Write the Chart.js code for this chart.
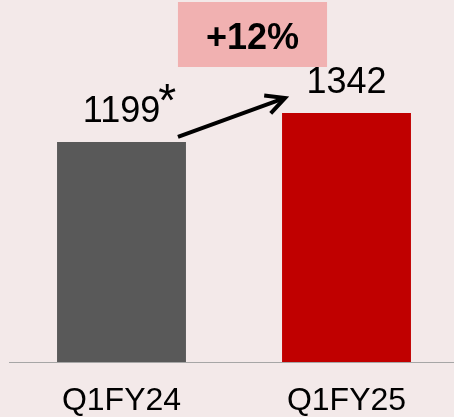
<!DOCTYPE html>
<html>
<head>
<meta charset="utf-8">
<script src="https://cdn.jsdelivr.net/npm/chart.js@4/dist/chart.umd.min.js"></script>
<style>
  html, body { margin: 0; padding: 0; background: #f3e9e9; overflow: hidden; width: 454px; height: 417px; }
  canvas { display: block; }
</style>
</head>
<body>
<canvas id="c" width="460" height="417"></canvas>
<script>
const categories = ['Q1FY24', 'Q1FY25'];
const values = [1199, 1342];
const valueLabels = ['1199', '1342'];
const growthLabel = '+12%';
const barColors = ['#595959', '#c00000'];

const FONT = '"Liberation Sans", Arial, Helvetica, sans-serif';

const decor = {
  id: 'decor',
  beforeDraw(chart) {
    const ctx = chart.ctx;
    ctx.save();
    ctx.fillStyle = '#f3e9e9';
    ctx.fillRect(0, 0, chart.width, chart.height);
    ctx.restore();
  },
  afterDatasetsDraw(chart) {
    const ctx = chart.ctx;
    const area = chart.chartArea;
    const xs = chart.scales.x;
    const bars = chart.getDatasetMeta(0).data;
    ctx.save();
    // axis line
    ctx.strokeStyle = '#a6a6a6';
    ctx.lineWidth = 1;
    ctx.beginPath();
    ctx.moveTo(area.left, area.bottom + 0.5);
    ctx.lineTo(area.right, area.bottom + 0.5);
    ctx.stroke();
    // category labels
    ctx.fillStyle = '#000';
    ctx.font = '32px ' + FONT;
    ctx.textAlign = 'center';
    ctx.textBaseline = 'alphabetic';
    categories.forEach((c, i) => {
      ctx.fillText(c, xs.getPixelForValue(i), area.bottom + 48);
    });
    // value labels
    ctx.font = '36px ' + FONT;
    bars.forEach((b, i) => {
      ctx.fillText(valueLabels[i], b.x, b.y - 20);
    });
    // asterisk on first label
    const g = bars[0];
    const w = ctx.measureText(valueLabels[0]).width;
    ctx.textAlign = 'left';
    ctx.font = '46px ' + FONT;
    ctx.fillText('*', g.x + w / 2 - 2, g.y - 26);
    // arrow
    const r = bars[1];
    const sx = g.x + g.width / 2 - 8, sy = g.y - 5;
    const ex = r.x - r.width / 2 + 3, ey = r.y - 15;
    ctx.strokeStyle = '#000';
    ctx.lineWidth = 4;
    ctx.lineCap = 'butt';
    ctx.beginPath();
    ctx.moveTo(sx, sy);
    ctx.lineTo(ex - 2, ey + 0.7);
    ctx.stroke();
    const ang = Math.atan2(ey - sy, ex - sx);
    const L = 21, half = 27 * Math.PI / 180;
    ctx.lineJoin = 'miter';
    ctx.beginPath();
    ctx.moveTo(ex - L * Math.cos(ang - half), ey - L * Math.sin(ang - half));
    ctx.lineTo(ex, ey);
    ctx.lineTo(ex - L * Math.cos(ang + half), ey - L * Math.sin(ang + half));
    ctx.stroke();
    // growth box
    const bl = g.x + g.width / 2 - 8;
    const br = r.x - r.width / 2 + 45;
    ctx.fillStyle = '#f1b1b1';
    ctx.fillRect(bl, 2, br - bl, 65);
    ctx.fillStyle = '#000';
    ctx.font = 'bold 36px ' + FONT;
    ctx.textAlign = 'center';
    ctx.fillText(growthLabel, (bl + br) / 2, 49);
    ctx.restore();
  }
};

new Chart(document.getElementById('c'), {
  type: 'bar',
  data: {
    labels: categories,
    datasets: [{
      data: values,
      backgroundColor: barColors,
      borderWidth: 0,
      categoryPercentage: 1,
      barPercentage: 0.573
    }]
  },
  options: {
    responsive: false,
    animation: false,
    layout: { padding: { left: 9, right: 1, top: 0, bottom: 55 } },
    plugins: { legend: { display: false }, tooltip: { enabled: false } },
    scales: {
      x: { display: false },
      y: { display: false, min: 114, max: 1899 }
    }
  },
  plugins: [decor]
});
</script>
</body>
</html>
